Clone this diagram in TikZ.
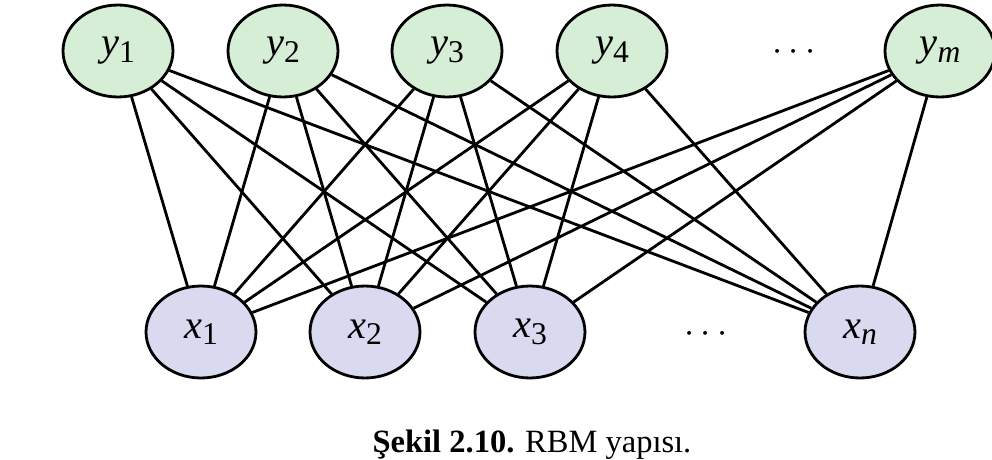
\documentclass[tikz,border=0pt]{standalone}
\usepackage{fontspec}
\setmainfont{Liberation Serif}
\usepackage{tikz}
\usetikzlibrary{shapes.geometric}

\definecolor{hidfill}{HTML}{D6EED6}
\definecolor{visfill}{HTML}{D9DAF0}

% italic letter with upright subscript
\newcommand{\unitlbl}[2]{\textit{#1}\raisebox{-0.35ex}{\fontsize{18}{20}\selectfont #2}}

\begin{document}
\begin{tikzpicture}[
  x=0.02cm, y=-0.02cm,
  ynode/.style={ellipse, draw=black, line width=1.6pt, fill=hidfill,
                minimum width=2.2cm, minimum height=1.84cm, inner sep=0pt,
                font=\fontsize{23}{26}\selectfont},
  xnode/.style={ynode, fill=visfill},
  link/.style={line width=1.6pt, black},
  dotsnode/.style={font=\fontsize{21}{24}\selectfont}
]
\useasboundingbox (0,0) rectangle (992,460);

% hidden layer
\foreach \x/\idx/\sub in {118/1/1, 283/2/2, 447/3/3, 612/4/4, 940/m/\textit{m}}{
  \node[ynode] (y\idx) at (\x,51) {\unitlbl{y}{\sub}};
}
\node[dotsnode] (ydots) at (794,52) {$\cdots$};

% visible layer
\foreach \x/\idx/\sub in {201/1/1, 365/2/2, 530/3/3, 860/n/\textit{n}}{
  \node[xnode] (x\idx) at (\x,332) {\unitlbl{x}{\sub}};
}
\node[dotsnode] (xdots) at (706,334) {$\cdots$};

% full connections
\foreach \a in {1,2,3,4,m}
  \foreach \b in {1,2,3,n}
    \draw[link] (y\a) -- (x\b);

\node[font=\fontsize{18.5}{22}\selectfont] (caption) at (532,445)
  {\textbf{Şekil 2.10.} RBM yapısı.};

\end{tikzpicture}
\end{document}
